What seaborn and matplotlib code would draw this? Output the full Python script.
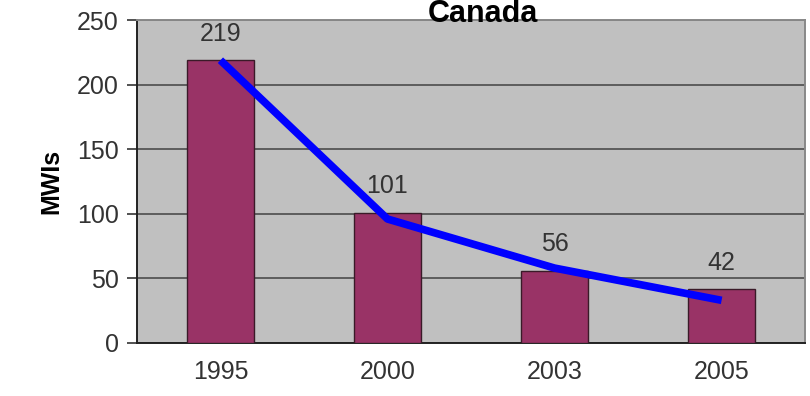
import matplotlib
matplotlib.use("Agg")
import matplotlib.pyplot as plt
import seaborn as sns
import pandas as pd
import numpy as np

years = ['1995', '2000', '2003', '2005']
mwis = [219, 101, 56, 42]
trend = [219, 96, 58, 33]

df = pd.DataFrame({'Year': years, 'MWIs': mwis})

sns.set_style('white')
plt.rcParams['font.family'] = ['Liberation Sans', 'DejaVu Sans']

fig = plt.figure(figsize=(8.1, 3.96), dpi=100)
ax = fig.add_axes([0.169, 0.134, 0.825, 0.815])
ax.set_facecolor('#c0c0c0')

sns.barplot(data=df, x='Year', y='MWIs', color='#993366', saturation=1,
            width=0.4, edgecolor='#3a1a28', linewidth=1, ax=ax, zorder=3)
ax.plot(range(len(years)), trend, color='#0000ff', lw=5.5, zorder=4,
        solid_capstyle='butt')

for i, v in enumerate(mwis):
    ax.text(i, v + 11, str(v), ha='center', va='bottom', fontsize=18, color='#333333')

ax.set_ylim(0, 250)
ax.set_xlim(-0.5, 3.5)
ax.set_yticks(range(0, 251, 50))
ax.yaxis.grid(True, color='#555555', lw=1.3, zorder=1)
ax.set_axisbelow(True)

ax.set_xticks(range(len(years)))
ax.set_xticklabels(years)
ax.tick_params(axis='x', which='major', length=0, pad=12, labelsize=18, labelcolor='#333333')
ax.set_xticks(np.arange(-0.5, 3.6, 1), minor=True)
ax.tick_params(axis='x', which='minor', length=7, width=1.2, color='#333333', direction='out')
ax.tick_params(axis='y', length=7, width=1.2, color='#333333', direction='out', pad=6,
               labelsize=18, labelcolor='#333333', left=True)

for s in ['left', 'bottom']:
    ax.spines[s].set_color('#222222')
    ax.spines[s].set_linewidth(1.4)
for s in ['top', 'right']:
    ax.spines[s].set_color('#888888')
    ax.spines[s].set_linewidth(1.4)

ax.set_xlabel('')
ax.set_ylabel('MWIs', fontsize=18, fontweight='bold', labelpad=10, color='black')

fig.text(0.596, 0.944, 'Canada', ha='center', va='baseline', fontsize=22,
         fontweight='bold', color='black')

fig.savefig('out.png', dpi=100)
